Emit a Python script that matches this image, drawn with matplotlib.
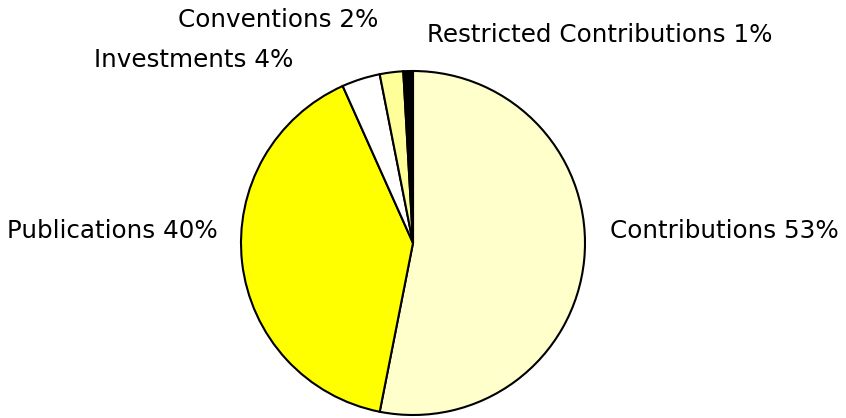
import matplotlib.pyplot as plt

labels = ['Contributions', 'Publications', 'Investments', 'Conventions', 'Restricted Contributions']
values = [53.1, 40.2, 3.6, 2.2, 0.9]
colors = ['#FFFFCC', '#FFFF00', '#FFFFFF', '#FFFF99', '#000000']

# label anchor points (pie radius = 1) and alignment
label_pos = [(1.145, 0.07, 'left'), (-1.134, 0.07, 'right'), (-0.698, 1.064, 'right'),
             (-0.203, 1.297, 'right'), (0.081, 1.209, 'left')]

fig = plt.figure(figsize=(8.46, 4.18), dpi=100)
ax = fig.add_axes([0, 0, 1, 1])

ax.pie(values, colors=colors, startangle=90, counterclock=False,
       wedgeprops=dict(edgecolor='black', linewidth=1.5))

total = sum(values)
for name, v, (x, y, ha) in zip(labels, values, label_pos):
    ax.text(x, y, f'{name} {round(v / total * 100):.0f}%', ha=ha, va='center',
            fontsize=17.7, family='DejaVu Sans', color='black')

cx, cy, r = 413, 243, 172
ax.set_xlim(-cx / r, (846 - cx) / r)
ax.set_ylim(-(418 - cy) / r, cy / r)
ax.set_aspect('auto')
ax.axis('off')

fig.savefig('out.png', dpi=100)
